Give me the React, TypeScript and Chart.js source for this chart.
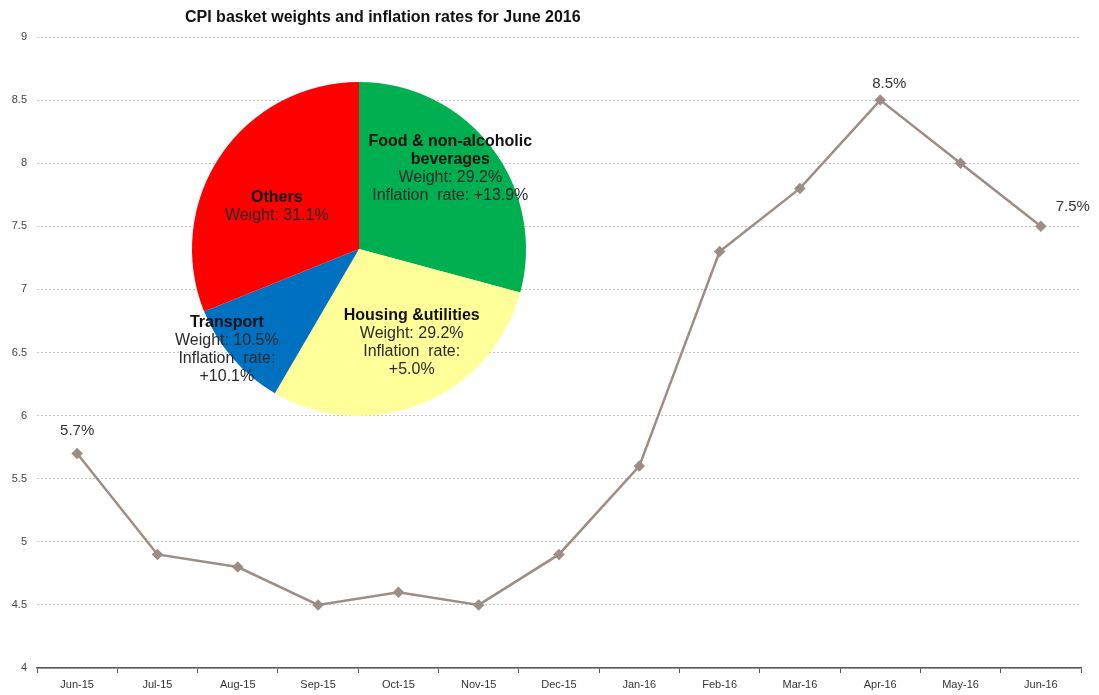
import React, { useEffect, useRef } from "react";
import { Chart, registerables } from "chart.js";

Chart.register(...registerables);

// ---------- data ----------
const months = [
  "Jun-15", "Jul-15", "Aug-15", "Sep-15", "Oct-15", "Nov-15", "Dec-15",
  "Jan-16", "Feb-16", "Mar-16", "Apr-16", "May-16", "Jun-16",
];
const inflationRates = [5.7, 4.9, 4.8, 4.5, 4.6, 4.5, 4.9, 5.6, 7.3, 7.8, 8.5, 8.0, 7.5];
const yTickValues = [4, 4.5, 5, 5.5, 6, 6.5, 7, 7.5, 8, 8.5, 9];
const labelledPointIndices = [0, 10, 12];

const pieNameLines = [
  ["Food & non-alcoholic", "beverages"],
  ["Housing &utilities"],
  ["Transport"],
  ["Others"],
];
const pieWeights = [29.2, 29.2, 10.5, 31.1];
const pieInflation: (number | null)[] = [13.9, 5.0, 10.1, null];

const titleText = "CPI basket weights and inflation rates for June 2016";

// ---------- styles / layout ----------
const FONT = "'Liberation Sans', Arial, sans-serif";
const LINE_COLOR = "#9d8d87";
const PIE_COLORS = ["#00b050", "#ffff99", "#0070c0", "#ff0000"];
const PIE_CANVAS = 440;
const PIE_RADIUS = 167;
const pointLabelOffsets = [
  { dx: 0, dy: -23 },
  { dx: 9, dy: -16 },
  { dx: 32, dy: -19 },
];
const pieLabelLayout = [
  { dx: 25, dy: -30, splitRate: false },
  { dx: 21, dy: 16, splitRate: true },
  { dx: -69, dy: 46, splitRate: true },
  { dx: -13, dy: 4, splitRate: false },
];

const pointLabelPlugin = {
  id: "pointLabels",
  afterDatasetsDraw(chart: any) {
    const meta = chart.getDatasetMeta(0);
    const ctx = chart.ctx;
    ctx.save();
    ctx.font = `15px ${FONT}`;
    ctx.fillStyle = "#333";
    ctx.textAlign = "center";
    ctx.textBaseline = "middle";
    labelledPointIndices.forEach((idx, k) => {
      const pt = meta.data[idx];
      const off = pointLabelOffsets[k];
      ctx.fillText(inflationRates[idx].toFixed(1) + "%", pt.x + off.dx, pt.y + off.dy);
    });
    ctx.restore();
  },
};

const pieLabelPlugin = {
  id: "pieLabels",
  afterDatasetsDraw(chart: any) {
    const meta = chart.getDatasetMeta(0);
    const ctx = chart.ctx;
    ctx.save();
    ctx.textAlign = "center";
    ctx.textBaseline = "middle";
    meta.data.forEach((arc: any, i: number) => {
      const { x, y, startAngle, endAngle, outerRadius } = arc.getProps(
        ["x", "y", "startAngle", "endAngle", "outerRadius"],
        true
      );
      const mid = (startAngle + endAngle) / 2;
      const lay = pieLabelLayout[i];
      const cx = x + (Math.cos(mid) * outerRadius) / 2 + lay.dx;
      const cy = y + (Math.sin(mid) * outerRadius) / 2 + lay.dy;
      const lines: { text: string; bold: boolean }[] = [];
      pieNameLines[i].forEach((t) => lines.push({ text: t, bold: true }));
      lines.push({ text: `Weight: ${pieWeights[i].toFixed(1)}%`, bold: false });
      const inf = pieInflation[i];
      if (inf !== null) {
        const rate = `+${inf.toFixed(1)}%`;
        if (lay.splitRate) {
          lines.push({ text: "Inflation  rate:", bold: false });
          lines.push({ text: rate, bold: false });
        } else {
          lines.push({ text: `Inflation  rate: ${rate}`, bold: false });
        }
      }
      const lh = 18;
      const top = cy - ((lines.length - 1) * lh) / 2;
      lines.forEach((ln, j) => {
        ctx.font = `${ln.bold ? "bold " : ""}16px ${FONT}`;
        ctx.fillStyle = ln.bold ? "#111" : "#2a2a2a";
        ctx.fillText(ln.text, cx, top + j * lh);
      });
    });
    ctx.restore();
  },
};

export default function App() {
  const lineRef = useRef<HTMLCanvasElement | null>(null);
  const pieRef = useRef<HTMLCanvasElement | null>(null);

  useEffect(() => {
    if (!lineRef.current || !pieRef.current) return;
    const lineChart = new Chart(lineRef.current, {
      type: "line",
      data: {
        labels: months,
        datasets: [
          {
            data: inflationRates,
            borderColor: LINE_COLOR,
            backgroundColor: LINE_COLOR,
            borderWidth: 2.5,
            pointStyle: "rectRot",
            pointRadius: 4,
            pointBackgroundColor: LINE_COLOR,
            pointBorderColor: LINE_COLOR,
            tension: 0,
          },
        ],
      },
      options: {
        animation: false,
        responsive: false,
        layout: { padding: { top: 37, right: 18, left: 0, bottom: 0 } },
        plugins: {
          legend: { display: false },
          tooltip: { enabled: false },
          title: { display: false },
        },
        scales: {
          x: {
            offset: true,
            grid: {
              offset: true,
              drawOnChartArea: false,
              drawTicks: true,
              tickLength: 5,
              color: "#555",
              lineWidth: 1,
            },
            border: { display: true, color: "#555", width: 1.5 },
            ticks: {
              font: { family: FONT, size: 11 },
              color: "#333",
              padding: 5,
              maxRotation: 0,
              autoSkip: false,
            },
            afterFit(scale: any) {
              scale.height = 27;
            },
          },
          y: {
            min: 4,
            max: 9,
            afterBuildTicks(scale: any) {
              scale.ticks = yTickValues.map((v) => ({ value: v }));
            },
            grid: { color: "#c4c4c4", lineWidth: 1, drawTicks: false },
            border: { display: false, dash: [2, 2] },
            ticks: {
              font: { family: FONT, size: 11 },
              color: "#444",
              padding: 10,
              callback: (v: any) => String(v),
            },
            afterFit(scale: any) {
              scale.width = 37;
            },
          },
        },
      },
      plugins: [pointLabelPlugin],
    } as any);

    const pieChart = new Chart(pieRef.current, {
      type: "pie",
      data: {
        labels: pieNameLines.map((l) => l.join(" ")),
        datasets: [
          {
            data: pieWeights,
            backgroundColor: PIE_COLORS,
            borderWidth: 0,
          },
        ],
      },
      options: {
        animation: false,
        responsive: false,
        layout: { padding: PIE_CANVAS / 2 - PIE_RADIUS },
        plugins: {
          legend: { display: false },
          tooltip: { enabled: false },
        },
      },
      plugins: [pieLabelPlugin],
    } as any);

    return () => {
      lineChart.destroy();
      pieChart.destroy();
    };
  }, []);

  return (
    <div
      style={{
        position: "absolute",
        left: 0,
        top: 0,
        width: 1099,
        height: 695,
        background: "#fff",
        overflow: "hidden",
      }}
    >
      <canvas ref={lineRef} width={1099} height={695} style={{ position: "absolute", left: 0, top: 0 }} />
      <canvas
        ref={pieRef}
        width={PIE_CANVAS}
        height={PIE_CANVAS}
        style={{ position: "absolute", left: 359 - PIE_CANVAS / 2, top: 249 - PIE_CANVAS / 2 }}
      />
      <div
        style={{
          position: "absolute",
          left: 185,
          top: 7,
          fontFamily: FONT,
          fontWeight: "bold",
          fontSize: 16,
          lineHeight: "20px",
          color: "#111",
          whiteSpace: "nowrap",
        }}
      >
        {titleText}
      </div>
    </div>
  );
}
